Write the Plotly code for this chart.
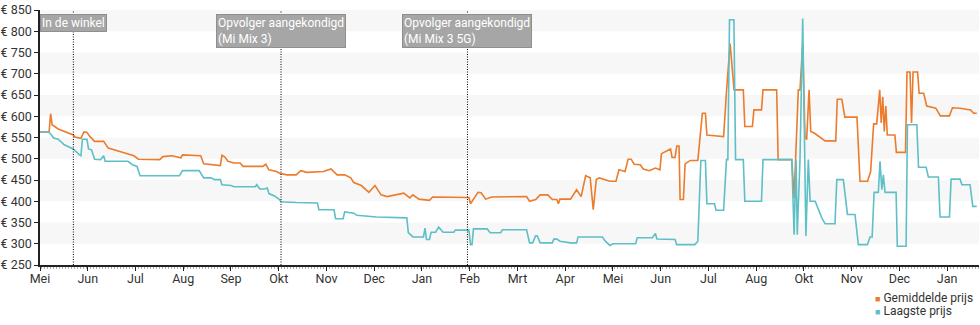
import pandas as pd
import plotly.graph_objects as go

# ---------------- data ----------------
START = "2018-05-15"          # day 0 of the series

gem_dag = [0, 6, 7, 8, 12, 22, 23, 27, 29, 31, 33, 36, 42, 45, 51, 60, 62, 65, 79, 81,
           87, 93, 94, 106, 108, 119, 120, 122, 124, 128, 132, 134, 147, 149, 151, 156, 158, 163, 169, 172,
           176, 187, 192, 196, 201, 205, 207, 212, 217, 221, 225, 229, 235, 240, 244, 246, 250, 257, 259, 273,
           283, 284, 286, 289, 291, 294, 298, 321, 323, 327, 330, 335, 338, 341, 342, 343, 350, 352, 354, 357,
           358, 360, 363, 365, 367, 369, 376, 380, 382, 386, 388, 390, 392, 396, 398, 402, 406, 409, 410, 413,
           416, 417, 419, 420.1, 421.6, 422.3, 424.5, 425.6, 429, 434, 435, 437, 439, 440, 445, 451, 453, 455.3, 457.9, 464,
           465, 470, 471, 476, 477, 486, 487, 496, 497.5, 500.3, 501.4, 503.2, 504.7, 505.8, 507.4, 508.5, 511, 515, 518, 525,
           526, 529, 531, 539, 541, 546, 548, 550, 552, 554, 555, 556, 557, 558, 559, 564, 565, 571, 572, 574,
           575, 576, 579, 580, 583, 585, 591, 594, 600, 602, 607, 614, 616, 618]
gem_prijs = [563, 563, 606, 580, 570, 556, 551, 548, 563, 562, 552, 541, 541, 525, 519, 509, 507, 499, 498, 505,
             507, 502, 509, 507, 488, 484, 508, 504, 494, 490, 490, 482, 482, 487, 474, 470, 466, 462, 462, 472,
             468, 470, 476, 462, 462, 455, 444, 437, 421, 437, 415, 411, 415, 419, 408, 415, 405, 402, 410, 409,
             409, 394, 404, 421, 420, 405, 410, 411, 400, 404, 415, 415, 404, 404, 394, 405, 405, 415, 427, 411,
             427, 460, 455, 380, 451, 455, 447, 447, 474, 470, 499, 499, 487, 486, 476, 472, 478, 474, 512, 517,
             523, 503, 503, 530, 530, 404, 404, 488, 496, 496, 533, 607, 607, 556, 554, 552, 663, 771, 662, 662,
             576, 576, 615, 615, 662, 662, 498, 498, 408, 662, 662, 771, 552, 545, 662, 564, 560, 549, 542, 542,
             640, 640, 598, 598, 447, 447, 470, 582, 582, 662, 584, 646, 564, 624, 556, 556, 515, 515, 704, 704,
             584, 704, 704, 654, 654, 624, 619, 601, 601, 620, 619, 615, 607, 607]

laag_dag = [0, 6, 9, 12, 16, 22, 26, 27, 28, 31, 32, 34, 36, 40, 42, 43, 58, 61, 64, 66,
            92, 94, 105, 108, 113, 115, 119, 120, 126, 128, 142, 143, 145, 148, 150, 151, 155, 158, 159, 169,
            183, 184, 194, 195, 200, 201, 207, 209, 222, 242, 243, 246, 253, 254, 255, 257, 258, 261, 263, 266,
            273, 274, 283, 284, 285, 286, 295, 297, 304, 305, 321, 323, 325, 327, 328, 330, 338, 339, 341, 343,
            350, 354, 355, 371, 373, 376, 378, 393, 394, 404, 406, 407, 419, 420, 432, 434, 436, 439, 440, 445,
            446, 451, 452.9, 453.8, 454.9, 457.8, 458.9, 464, 465, 476, 477, 496, 497.5, 498.8, 499.6, 501.4, 503.2, 505.3, 506.9, 508.1,
            511.4, 513.6, 515.8, 518, 524.5, 525.7, 530, 532.7, 537.7, 539.9, 545.9, 547.6, 549, 550.3, 553.1, 554.2, 555.4, 556.4, 557.5, 564.8,
            565.6, 571.4, 572.3, 578.5, 579.6, 584.6, 586.1, 592.7, 593.8, 600, 601.1, 607, 608.2, 613.6, 615.4, 618]
laag_prijs = [563, 563, 549, 546, 533, 523, 509, 507, 546, 546, 523, 521, 499, 498, 507, 494, 494, 486, 482, 460,
              460, 472, 472, 455, 455, 451, 451, 439, 437, 434, 434, 439, 429, 429, 431, 418, 412, 404, 399, 397,
              396, 380, 380, 359, 359, 375, 372, 367, 363, 361, 326, 316, 316, 337, 310, 310, 327, 327, 339, 327,
              327, 332, 332, 298, 298, 335, 335, 326, 326, 333, 333, 302, 302, 319, 319, 302, 302, 311, 311, 306,
              302, 302, 316, 316, 306, 296, 300, 300, 314, 314, 324, 311, 310, 298, 298, 306, 496, 496, 394, 394,
              379, 379, 498, 498, 827, 827, 498, 498, 400, 400, 498, 498, 321, 498, 321, 498, 830, 318, 498, 400,
              400, 380, 361, 347, 347, 451, 451, 369, 369, 298, 298, 316, 316, 421, 421, 494, 427, 462, 421, 421,
              294, 294, 580, 580, 480, 480, 457, 457, 363, 363, 452, 452, 439, 439, 388, 388]

tick_labels = ["Mei", "Jun", "Jul", "Aug", "Sep", "Okt", "Nov", "Dec", "Jan", "Feb",
               "Mrt", "Apr", "Mei", "Jun", "Jul", "Aug", "Okt", "Nov", "Dec", "Jan"]
event_dates = ["2018-06-06", "2018-10-21", "2019-02-21"]
event_labels = ["In de winkel", "Opvolger aangekondigd<br>(Mi Mix 3)", "Opvolger aangekondigd<br>(Mi Mix 3 5G)"]
y_ticks = list(range(250, 851, 50))
series_names = ["Gemiddelde prijs", "Laagste prijs"]
series_colors = ["#ec7b2c", "#5ebfc7"]

# ---------------- figure ----------------
start = pd.Timestamp(START)
def to_dates(days):
    return [start + pd.Timedelta(days=d) for d in days]

TICK_STEP = 31.5
tick_vals = [start + pd.Timedelta(days=k * TICK_STEP) for k in range(len(tick_labels))]
x_end = start + pd.Timedelta(days=619.5)

fig = go.Figure()
fig.add_trace(go.Scatter(x=to_dates(gem_dag), y=gem_prijs, mode="lines", name=series_names[0],
                         line=dict(color=series_colors[0], width=1.6), showlegend=False))
fig.add_trace(go.Scatter(x=to_dates(laag_dag), y=laag_prijs, mode="lines", name=series_names[1],
                         line=dict(color=series_colors[1], width=1.6), showlegend=False))

shapes = []
for lo in range(300, 850, 100):
    shapes.append(dict(type="rect", xref="paper", x0=0, x1=1, yref="y", y0=lo, y1=lo + 50,
                       fillcolor="#f7f7f7", line=dict(width=0), layer="below"))
for d in event_dates:
    shapes.append(dict(type="line", xref="x", x0=d, x1=d, yref="paper", y0=0, y1=1,
                       line=dict(color="#000", width=1, dash="1px,1.5px")))

annotations = []
for d, lab in zip(event_dates, event_labels):
    annotations.append(dict(x=d, xref="x", y=1, yref="paper", yanchor="top", xanchor="center",
                            yshift=-4, text=lab, showarrow=False, align="left",
                            font=dict(family="Roboto", size=12, color="white"),
                            bgcolor="#a6a6a6", bordercolor="#8f8f8f", borderwidth=1, borderpad=1))
for i, (nm, col) in enumerate(zip(series_names, series_colors)):
    annotations.append(dict(x=1, xref="paper", y=0, yref="paper", xanchor="left", yanchor="middle",
                            xshift=-106, yshift=-33 - 13 * i, showarrow=False, align="left",
                            text=f"<span style='color:{col};font-size:9px'>■</span> {nm}",
                            font=dict(family="Roboto", size=12, color="#333")))

fig.update_layout(
    width=980, height=325,
    margin=dict(l=40, r=1, t=10, b=60),
    paper_bgcolor="white", plot_bgcolor="white",
    font=dict(family="Roboto", size=12, color="#333"),
    showlegend=False,
    shapes=shapes, annotations=annotations,
    xaxis=dict(type="date", range=[start, x_end], tickvals=tick_vals, ticktext=tick_labels,
               showgrid=False, zeroline=False, showline=True, linecolor="#222", linewidth=1.5,
               ticks="outside", ticklen=4, tickcolor="#222", tickfont=dict(size=12.5, color="#333"),
               ticklabelstandoff=-3,
               minor=dict(dtick=2 * 86400000, ticks="outside", ticklen=2, tickcolor="#aaa", showgrid=False)),
    yaxis=dict(range=[250, 850], tickvals=y_ticks, ticktext=[f"€ {v}" for v in y_ticks],
               showgrid=False, zeroline=False, showline=True, linecolor="#222", linewidth=1.5,
               ticks="outside", ticklen=4, tickcolor="#222", tickfont=dict(size=12.5, color="#333")),
)

fig.write_html("out.html")
